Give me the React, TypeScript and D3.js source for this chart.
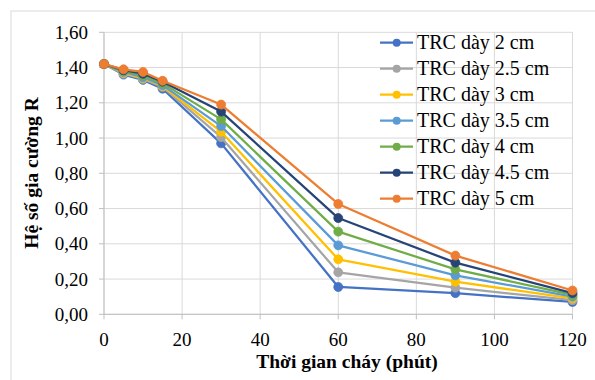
import React from 'react';
import * as d3 from 'd3';

const times = [0, 5, 10, 15, 30, 60, 90, 120];
const seriesNames = ['TRC dày 2 cm', 'TRC dày 2.5 cm', 'TRC dày 3 cm', 'TRC dày 3.5 cm', 'TRC dày 4 cm', 'TRC dày 4.5 cm', 'TRC dày 5 cm'];
const colors = ['#4472C4', '#A5A5A5', '#FFC000', '#5B9BD5', '#70AD47', '#264478', '#ED7D31'];
const r2 = [1.42, 1.36, 1.33, 1.28, 0.97, 0.155, 0.12, 0.07];
const r25 = [1.42, 1.365, 1.335, 1.29, 1.005, 0.238, 0.151, 0.08];
const r3 = [1.42, 1.37, 1.34, 1.295, 1.036, 0.312, 0.185, 0.09];
const r35 = [1.42, 1.375, 1.345, 1.30, 1.068, 0.391, 0.221, 0.10];
const r4 = [1.42, 1.38, 1.355, 1.31, 1.106, 0.469, 0.255, 0.11];
const r45 = [1.42, 1.385, 1.365, 1.32, 1.15, 0.546, 0.293, 0.12];
const r5 = [1.42, 1.39, 1.375, 1.325, 1.19, 0.626, 0.333, 0.135];
const values = [r2, r25, r3, r35, r4, r45, r5];
const xTicks = [0, 20, 40, 60, 80, 100, 120];
const yTicks = [0, 0.2, 0.4, 0.6, 0.8, 1.0, 1.2, 1.4, 1.6];

const font = 'Liberation Serif';

const App = () => {
  const width = 595;
  const height = 380;
  const x = d3.scaleLinear().domain([0, 120]).range([104, 572.5]);
  const y = d3.scaleLinear().domain([0, 1.6]).range([314.3, 32.3]);
  const line = d3.line<number>()
    .x((d, i) => x(times[i]))
    .y((d) => y(d));

  return (
    <svg width={width} height={height} style={{ position: 'absolute', left: 0, top: 0, background: '#fff', fontFamily: font }}>
      <rect x={11} y={11} width={width} height={height} fill="#fff" stroke="#d9d9d9" strokeWidth={1} />

      {/* grid */}
      {yTicks.map((t) => (
        <line key={'gy' + t} x1={x(0)} x2={x(120)} y1={y(t)} y2={y(t)} stroke="#d9d9d9" strokeWidth={1} />
      ))}
      {xTicks.map((t) => (
        <line key={'gx' + t} x1={x(t)} x2={x(t)} y1={y(0)} y2={y(1.6)} stroke="#d9d9d9" strokeWidth={1} />
      ))}

      {/* axes */}
      <line x1={x(0)} x2={x(0)} y1={y(0)} y2={y(1.6)} stroke="#bfbfbf" />
      <line x1={x(0)} x2={x(120)} y1={y(0)} y2={y(0)} stroke="#bfbfbf" />
      {yTicks.map((t) => (
        <g key={'ty' + t}>
          <line x1={x(0) - 5} x2={x(0)} y1={y(t)} y2={y(t)} stroke="#bfbfbf" />
          <text x={88} y={y(t) + 6.5} textAnchor="end" fontFamily={font} fontSize={19} fill="#000">
            {d3.format('.2f')(t).replace('.', ',')}
          </text>
        </g>
      ))}
      {xTicks.map((t) => (
        <g key={'tx' + t}>
          <line x1={x(t)} x2={x(t)} y1={y(0)} y2={y(0) + 5} stroke="#bfbfbf" />
          <text x={x(t)} y={346} textAnchor="middle" fontFamily={font} fontSize={19} fill="#000">
            {t}
          </text>
        </g>
      ))}

      {/* series */}
      {values.map((vals, s) => (
        <g key={'s' + s}>
          <path d={line(vals) || ''} fill="none" stroke={colors[s]} strokeWidth={2.25} strokeLinejoin="round" />
          {vals.map((v, i) => (
            <circle key={i} cx={x(times[i])} cy={y(v)} r={4.5} fill={colors[s]} stroke={colors[s]} strokeWidth={0.75} />
          ))}
        </g>
      ))}

      {/* legend */}
      {seriesNames.map((name, i) => {
        const cy = 42.7 + i * 26;
        return (
          <g key={'l' + i}>
            <line x1={380} x2={413} y1={cy} y2={cy} stroke={colors[i]} strokeWidth={2.25} />
            <circle cx={396.7} cy={cy} r={4} fill={colors[i]} />
            <text x={417} y={cy + 6.5} fontFamily={font} fontSize={20} fill="#000">{name}</text>
          </g>
        );
      })}

      {/* axis titles */}
      <text x={347} y={368} textAnchor="middle" fontFamily={font} fontSize={19.5} fontWeight="bold" fill="#000">
        Thời gian cháy (phút)
      </text>
      <text transform={`translate(38, ${173}) rotate(-90)`} textAnchor="middle" fontFamily={font} fontSize={19.5} fontWeight="bold" fill="#000">
        Hệ số gia cường R
      </text>
    </svg>
  );
};

export default App;
